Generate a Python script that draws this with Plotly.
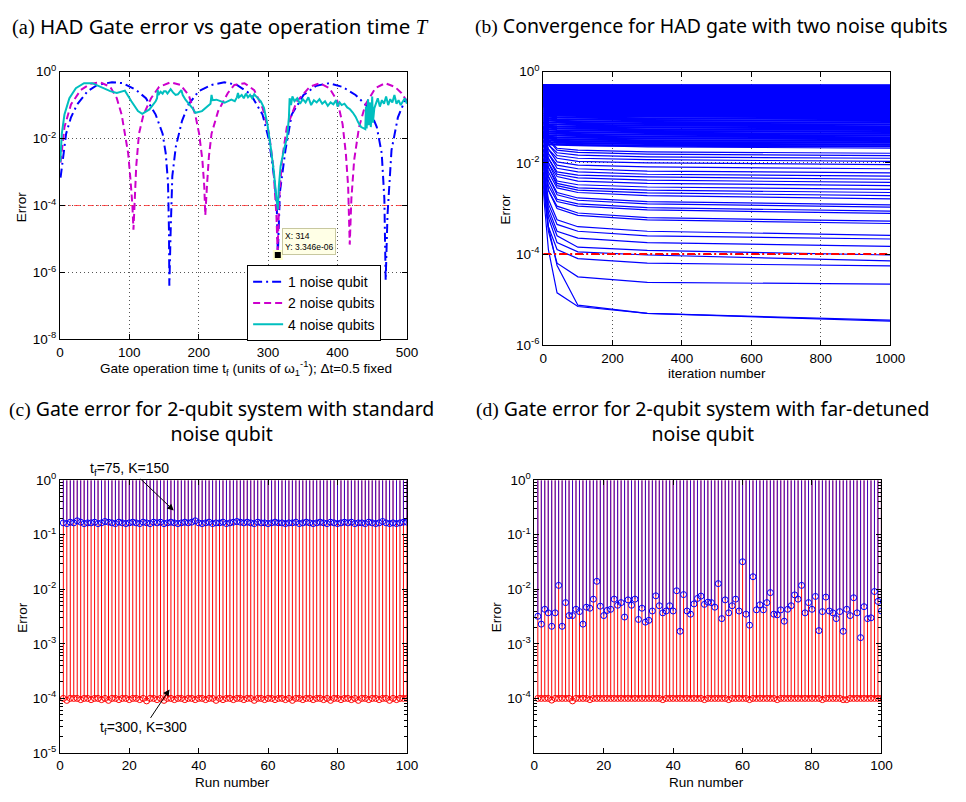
import numpy as np
import plotly.graph_objects as go

W, H = 966, 802
FONT = "Liberation Sans, Arial, sans-serif"
TFONT = "Noto Sans, sans-serif"

# ---------------- (a) HAD gate error vs gate time ----------------
t_1q = [1, 4, 9, 16, 25, 40, 54, 75, 91, 110, 124, 138, 148, 152.5, 155.8, 157.2, 157.7, 159.6, 162, 167,
        176, 185.5, 200, 218.5, 237, 255, 275, 292, 301.4, 308.5, 312.5, 314, 317, 325, 334, 351, 369.6, 388, 407, 426,
        445, 456.6, 463.7, 467.5, 469.4, 472, 477.8, 487, 496.6, 500]
err_1q = [6.8e-4, 2.3e-3, 1.4e-2, 4.3e-2, 0.105, 0.26, 0.40, 0.48, 0.45, 0.28,
          0.16, 0.052, 0.014, 3.6e-3, 4.8e-4, 1.7e-5, 4.0e-7, 1.7e-5, 7.6e-4, 5.6e-3,
          3.4e-2, 0.105, 0.26, 0.40, 0.48, 0.40, 0.21, 0.052, 8.9e-3, 7.6e-4,
          1.0e-4, 3.3e-6, 2.5e-4, 4.5e-3, 0.052, 0.20, 0.38, 0.45, 0.35, 0.20,
          0.083, 0.022, 3.6e-3, 1.6e-4, 5.8e-7, 5.1e-5, 4.5e-3, 4.3e-2, 0.13, 0.15]

t_2q = [1, 6.6, 16, 30, 44, 58, 72.5, 82, 89, 93.7, 98.4, 101.7, 104.5, 106, 108.3, 110, 114, 120.5, 131.4, 143,
        159.6, 173.7, 185.5, 195, 200.6, 205.3, 208, 209.5, 211.9, 214.7, 218.5, 228, 242, 251.4, 266, 280, 292, 301.4, 307.4, 312,
        313.7, 316, 320, 327, 341.4, 360, 374.3, 388.4, 400, 407.3, 412, 415.3, 417.6, 420, 424, 431, 440.4, 454.5, 468.6, 482.7,
        492, 500]
err_2q = [1.9e-3, 0.022, 0.105, 0.28, 0.43, 0.48, 0.35, 0.16, 0.052, 0.014,
          3.6e-3, 6.0e-4, 1.0e-4, 1.9e-5, 1.6e-4, 1.5e-3, 0.014, 0.052, 0.16, 0.35,
          0.48, 0.40, 0.20, 0.052, 0.014, 2.3e-3, 3.8e-4, 5.1e-5, 3.8e-4, 2.9e-3,
          0.014, 0.066, 0.23, 0.40, 0.45, 0.28, 0.083, 0.014, 1.5e-3, 5.1e-5,
          4.5e-6, 1.6e-4, 2.3e-3, 0.022, 0.13, 0.35, 0.45, 0.32, 0.13, 0.027,
          3.6e-3, 3.8e-4, 6.8e-6, 1.6e-4, 2.3e-3, 0.022, 0.105, 0.32, 0.45, 0.35,
          0.23, 0.13]

t_4q = [0.5, 2.8, 6.6, 13.7, 23, 34.8, 46.6, 58.4, 72.5, 82,
        93.7, 103, 112.5, 118.6, 129, 138, 140, 141, 142, 145,
        148, 150, 152.5, 155, 159.6, 163, 166.7, 170, 173, 175,
        177, 181, 190.6, 195.3, 204.7, 214, 217, 218.5, 220, 225.6,
        237.4, 247, 252, 255, 256.6, 258, 262, 265, 268, 271,
        274, 277, 280, 284, 289.5, 294, 299, 303.7, 308.5, 312,
        314, 315.5, 318, 322.7, 327.4, 330, 331, 333, 335, 338,
        342, 346, 350, 354, 358, 362, 366, 370, 374, 378,
        382, 386, 390, 394, 398, 400, 403, 406, 410, 414,
        418, 422, 426, 430, 434, 438, 440, 441, 442, 444,
        445, 447, 448, 450, 451, 453, 455, 458, 461, 464,
        467, 470, 473, 476, 479, 482, 485, 488, 491, 494,
        497, 500]
err_4q = [2.0e-3, 1.4e-2, 5.2e-2, 0.16, 0.32, 0.45, 0.45, 0.35, 0.26, 0.23,
          0.27, 0.13, 0.066, 0.055, 0.074, 0.13, 0.16, 0.28, 0.20, 0.25,
          0.22, 0.26, 0.26, 0.22, 0.30, 0.24, 0.20, 0.21, 0.24, 0.28,
          0.20, 0.145, 0.083, 0.059, 0.066, 0.093, 0.11, 0.20, 0.14, 0.145,
          0.117, 0.145, 0.13, 0.17, 0.23, 0.17, 0.20, 0.16, 0.22, 0.17,
          0.20, 0.16, 0.21, 0.17, 0.13, 0.083, 0.027, 5.6e-3, 9.3e-4, 1.6e-4,
          7.5e-5, 3.8e-4, 1.5e-3, 4.5e-3, 0.011, 0.043, 0.16, 0.10, 0.18, 0.13,
          0.16, 0.11, 0.15, 0.12, 0.17, 0.10, 0.14, 0.12, 0.15, 0.11,
          0.13, 0.095, 0.12, 0.105, 0.14, 0.09, 0.12, 0.10, 0.11, 0.085,
          0.075, 0.06, 0.045, 0.03, 0.022, 0.02, 0.019, 0.09, 0.02, 0.15,
          0.025, 0.12, 0.022, 0.18, 0.03, 0.08, 0.10, 0.16, 0.09, 0.14,
          0.11, 0.18, 0.10, 0.15, 0.12, 0.20, 0.11, 0.14, 0.10, 0.13,
          0.16, 0.11]

threshold = 1e-4
tip_x, tip_y = 314, 3.346e-6

# ---------------- (b) convergence, log10(error) per run at given iterations ----------------
conv_iter = [0, 15, 40, 100, 300, 1000]
conv_log10_low = [
    [-2.6, -3.9, -4.85, -5.15, -5.30, -5.47],
    [-2.5, -3.4, -4.25, -5.12, -5.30, -5.45],
    [-2.4, -3.5, -4.20, -4.50, -4.62, -4.66],
    [-2.3, -3.4, -3.90, -4.10, -4.20, -4.26],
    [-2.2, -3.2, -3.75, -3.95, -4.02, -4.15],
    [-2.2, -3.1, -3.60, -3.85, -3.92, -4.02],
    [-2.1, -3.0, -3.50, -3.65, -3.75, -3.83],
    [-2.0, -2.9, -3.35, -3.50, -3.60, -3.67],
    [-2.0, -2.8, -3.25, -3.40, -3.50, -3.59],
    [-1.9, -2.6, -3.00, -3.15, -3.25, -3.33],
    [-1.9, -2.6, -2.95, -3.10, -3.20, -3.28],
    [-1.8, -2.5, -2.85, -2.95, -3.03, -3.11],
    [-1.8, -2.4, -2.80, -2.90, -2.98, -3.06],
    [-1.7, -2.3, -2.70, -2.82, -2.90, -2.97],
    [-1.7, -2.3, -2.65, -2.77, -2.85, -2.92],
    [-1.6, -2.2, -2.55, -2.65, -2.72, -2.79],
    [-1.6, -2.1, -2.50, -2.60, -2.66, -2.72],
    [-1.5, -2.1, -2.45, -2.55, -2.60, -2.65],
    [-1.5, -2.0, -2.40, -2.48, -2.53, -2.58],
    [-1.4, -2.0, -2.30, -2.40, -2.45, -2.50],
    [-1.4, -1.9, -2.25, -2.33, -2.38, -2.43],
    [-1.4, -1.9, -2.20, -2.27, -2.31, -2.36],
    [-1.3, -1.8, -2.12, -2.20, -2.25, -2.29],
    [-1.3, -1.8, -2.05, -2.13, -2.18, -2.22],
    [-1.3, -1.7, -1.98, -2.05, -2.09, -2.13],
    [-1.3, -1.7, -1.90, -1.97, -2.00, -2.04],
    [-1.2, -1.6, -1.84, -1.90, -1.93, -1.97],
    [-1.2, -1.6, -1.78, -1.83, -1.87, -1.90],
    [-1.2, -1.5, -1.72, -1.77, -1.81, -1.84],
    [-1.2, -1.5, -1.68, -1.72, -1.76, -1.79],
    [-1.1, -1.4, -1.58, -1.62, -1.65, -1.68],
]
conv_log10_high = [
    [-1.39, -1.59, -1.60, -1.61, -1.625, -1.64],
    [-1.35, -1.55, -1.56, -1.57, -1.585, -1.60],
    [-1.31, -1.51, -1.52, -1.53, -1.545, -1.56],
    [-1.27, -1.47, -1.48, -1.49, -1.505, -1.52],
    [-1.23, -1.43, -1.44, -1.45, -1.465, -1.48],
    [-1.19, -1.39, -1.40, -1.41, -1.425, -1.44],
    [-1.15, -1.35, -1.36, -1.37, -1.385, -1.40],
    [-1.11, -1.31, -1.32, -1.33, -1.345, -1.36],
    [-1.07, -1.27, -1.28, -1.29, -1.305, -1.32],
    [-1.03, -1.23, -1.24, -1.25, -1.265, -1.28],
    [-0.99, -1.19, -1.20, -1.21, -1.225, -1.24],
    [-0.95, -1.15, -1.16, -1.17, -1.185, -1.20],
    [-0.91, -1.11, -1.12, -1.13, -1.145, -1.16],
    [-0.87, -1.07, -1.08, -1.09, -1.105, -1.12],
    [-0.83, -1.03, -1.04, -1.05, -1.065, -1.08],
    [-0.79, -0.99, -1.00, -1.01, -1.025, -1.04],
    [-0.75, -0.95, -0.96, -0.97, -0.985, -1.00],
    [-0.73, -0.925, -0.935, -0.945, -0.96, -0.975],
    [-0.70, -0.90, -0.91, -0.92, -0.935, -0.95],
    [-0.68, -0.875, -0.885, -0.895, -0.91, -0.925],
    [-0.65, -0.85, -0.86, -0.87, -0.885, -0.90],
    [-0.63, -0.825, -0.835, -0.845, -0.86, -0.875],
    [-0.60, -0.80, -0.81, -0.82, -0.835, -0.85],
    [-0.58, -0.775, -0.785, -0.795, -0.81, -0.825],
    [-0.55, -0.75, -0.76, -0.77, -0.785, -0.80],
    [-0.53, -0.725, -0.735, -0.745, -0.76, -0.775],
    [-0.50, -0.70, -0.71, -0.72, -0.735, -0.75],
    [-0.48, -0.675, -0.685, -0.695, -0.71, -0.725],
    [-0.45, -0.65, -0.66, -0.67, -0.685, -0.70],
    [-0.43, -0.625, -0.635, -0.645, -0.66, -0.675],
    [-0.40, -0.60, -0.61, -0.62, -0.635, -0.65],
    [-0.38, -0.575, -0.585, -0.595, -0.61, -0.625],
    [-0.35, -0.55, -0.56, -0.57, -0.585, -0.60],
    [-0.33, -0.525, -0.535, -0.545, -0.56, -0.575],
    [-0.31, -0.50, -0.51, -0.52, -0.535, -0.55],
    [-0.30, -0.475, -0.485, -0.495, -0.51, -0.525],
    [-0.30, -0.45, -0.46, -0.47, -0.485, -0.50],
    [-0.30, -0.425, -0.435, -0.445, -0.46, -0.475],
    [-0.30, -0.40, -0.41, -0.42, -0.435, -0.45],
    [-0.30, -0.375, -0.385, -0.395, -0.41, -0.425],
    [-0.30, -0.35, -0.36, -0.37, -0.385, -0.40],
    [-0.30, -0.33, -0.34, -0.35, -0.36, -0.375],
    [-0.30, -0.31, -0.32, -0.33, -0.34, -0.35],
    [-0.30, -0.30, -0.305, -0.31, -0.32, -0.33],
    [-0.30, -0.30, -0.30, -0.30, -0.305, -0.31],
    [-0.30, -0.30, -0.30, -0.30, -0.30, -0.30],
]

# ---------------- (c), (d) runs ----------------
runs = list(range(1, 101))
c_err_75 = [0.165, 0.160, 0.170, 0.165, 0.180, 0.170, 0.160, 0.165, 0.165, 0.170,
            0.160, 0.165, 0.175, 0.170, 0.165, 0.160, 0.170, 0.165, 0.160, 0.165,
            0.170, 0.165, 0.160, 0.170, 0.165, 0.160, 0.170, 0.165, 0.170, 0.160,
            0.165, 0.170, 0.165, 0.160, 0.165, 0.170, 0.165, 0.170, 0.180, 0.165,
            0.160, 0.165, 0.170, 0.160, 0.165, 0.165, 0.170, 0.160, 0.165, 0.170,
            0.175, 0.170, 0.165, 0.170, 0.165, 0.160, 0.170, 0.165, 0.165, 0.160,
            0.165, 0.170, 0.165, 0.165, 0.160, 0.165, 0.165, 0.170, 0.160, 0.165,
            0.170, 0.165, 0.160, 0.165, 0.170, 0.165, 0.160, 0.170, 0.165, 0.160,
            0.165, 0.170, 0.165, 0.170, 0.160, 0.165, 0.165, 0.160, 0.170, 0.165,
            0.160, 0.165, 0.175, 0.165, 0.160, 0.165, 0.160, 0.165, 0.170, 0.170]
c_err_300 = [1.0e-4, 0.92e-4, 1.0e-4, 1.0e-4, 1.0e-4, 0.95e-4, 1.0e-4, 1.0e-4, 0.95e-4, 1.0e-4,
             1.0e-4, 0.95e-4, 1.0e-4, 0.92e-4, 1.0e-4, 1.0e-4, 0.95e-4, 1.0e-4, 1.0e-4, 0.95e-4,
             1.0e-4, 1.0e-4, 0.95e-4, 1.0e-4, 0.9e-4, 1.0e-4, 1.0e-4, 0.95e-4, 1.0e-4, 0.92e-4,
             1.0e-4, 1.0e-4, 0.95e-4, 1.0e-4, 1.0e-4, 0.95e-4, 1.0e-4, 1.0e-4, 0.95e-4, 1.0e-4,
             1.0e-4, 0.95e-4, 1.0e-4, 1.0e-4, 0.92e-4, 1.0e-4, 0.95e-4, 1.0e-4, 1.0e-4, 0.95e-4,
             1.0e-4, 1.0e-4, 0.95e-4, 1.0e-4, 1.0e-4, 0.92e-4, 1.0e-4, 1.0e-4, 0.95e-4, 1.0e-4,
             1.0e-4, 0.95e-4, 1.0e-4, 1.0e-4, 0.95e-4, 1.0e-4, 0.92e-4, 1.0e-4, 1.0e-4, 0.95e-4,
             1.0e-4, 1.0e-4, 0.95e-4, 1.0e-4, 1.0e-4, 0.95e-4, 1.0e-4, 0.92e-4, 1.0e-4, 1.0e-4,
             0.95e-4, 1.0e-4, 1.0e-4, 0.95e-4, 1.0e-4, 0.92e-4, 1.0e-4, 1.0e-4, 0.95e-4, 1.0e-4,
             1.0e-4, 0.95e-4, 1.0e-4, 1.0e-4, 0.92e-4, 1.0e-4, 0.95e-4, 1.0e-4, 1.0e-4, 1.0e-4]
d_err_75 = [3.2e-3, 2.3e-3, 4.3e-3, 3.7e-3, 2.1e-3, 3.7e-3, 1.18e-2, 2.1e-3, 5.7e-3, 3.3e-3,
            3.3e-3, 4.3e-3, 3.9e-3, 2.3e-3, 4.7e-3, 4.5e-3, 6.6e-3, 1.4e-2, 4.9e-3, 3.3e-3,
            4.1e-3, 4.3e-3, 6.6e-3, 5.1e-3, 5.7e-3, 3.1e-3, 6.4e-3, 5.1e-3, 6.6e-3, 2.8e-3,
            4.5e-3, 2.5e-3, 2.7e-3, 4.0e-3, 7.6e-3, 5.0e-3, 3.7e-3, 4.0e-3, 5.0e-3, 4.0e-3,
            9.4e-3, 1.7e-3, 8.0e-3, 4.0e-3, 3.5e-3, 5.4e-3, 6.8e-3, 7.5e-3, 5.3e-3, 5.8e-3,
            5.7e-3, 4.7e-3, 1.27e-2, 2.9e-3, 6.4e-3, 3.7e-3, 5.0e-3, 6.6e-3, 4.0e-3, 3.2e-2,
            3.5e-3, 2.2e-3, 1.7e-2, 4.2e-3, 5.2e-3, 4.2e-3, 5.7e-3, 8.7e-3, 3.5e-3, 3.4e-3,
            4.2e-3, 2.6e-3, 4.3e-3, 5.0e-3, 7.9e-3, 6.6e-3, 1.18e-2, 3.7e-3, 5.7e-3, 4.3e-3,
            7.4e-3, 1.75e-3, 3.9e-3, 7.2e-3, 4.0e-3, 3.7e-3, 2.9e-3, 3.9e-3, 1.7e-3, 4.3e-3,
            3.3e-3, 7.0e-3, 3.7e-3, 1.3e-3, 4.8e-3, 2.9e-3, 3.0e-3, 9.1e-3, 6.0e-3, 4.0e-3]
d_err_300 = [1.0e-4, 1.0e-4, 1.0e-4, 1.0e-4, 0.93e-4, 1.0e-4, 1.0e-4, 1.0e-4, 1.0e-4, 1.0e-4,
             0.9e-4, 1.0e-4, 1.0e-4, 1.0e-4, 1.0e-4, 0.95e-4, 1.0e-4, 1.0e-4, 1.0e-4, 1.0e-4,
             1.0e-4, 1.0e-4, 1.0e-4, 1.0e-4, 1.0e-4, 1.0e-4, 1.0e-4, 1.0e-4, 1.0e-4, 1.0e-4,
             1.0e-4, 1.0e-4, 1.0e-4, 1.0e-4, 1.0e-4, 1.0e-4, 0.95e-4, 1.0e-4, 1.0e-4, 1.0e-4,
             1.0e-4, 1.0e-4, 1.0e-4, 1.0e-4, 1.0e-4, 1.0e-4, 1.0e-4, 1.0e-4, 0.95e-4, 1.0e-4,
             1.0e-4, 1.0e-4, 1.0e-4, 1.0e-4, 1.0e-4, 0.95e-4, 1.0e-4, 1.0e-4, 1.0e-4, 1.0e-4,
             1.0e-4, 0.95e-4, 1.0e-4, 1.0e-4, 1.0e-4, 1.0e-4, 1.0e-4, 1.0e-4, 1.0e-4, 0.95e-4,
             1.0e-4, 1.0e-4, 1.0e-4, 1.0e-4, 1.0e-4, 1.0e-4, 1.0e-4, 1.0e-4, 1.0e-4, 1.0e-4,
             1.0e-4, 1.0e-4, 0.95e-4, 1.0e-4, 1.0e-4, 1.0e-4, 1.0e-4, 1.0e-4, 0.95e-4, 0.95e-4,
             1.0e-4, 1.0e-4, 1.0e-4, 1.0e-4, 1.0e-4, 1.0e-4, 1.0e-4, 1.0e-4, 1.0e-4, 1.0e-4]
stem_top = 1.0

BLUE, RED, MAG, CYAN = "#0000ff", "#ff0000", "#cc00cc", "#00bfbf"


def px_x(p):
    return p / W


def px_y(p):
    return 1 - p / H


fig = go.Figure()

# ---- (a)
fig.add_trace(go.Scatter(x=[0, 500], y=[threshold, threshold], mode="lines", showlegend=False,
                         line=dict(color="rgba(255,40,40,0.8)", width=1, dash="6px,3px,2px,3px"),
                         xaxis="x", yaxis="y"))
fig.add_trace(go.Scatter(x=t_1q, y=err_1q, mode="lines", name="1 noise qubit",
                         line=dict(color=BLUE, width=2, dash="9px,4px,2px,4px"), xaxis="x", yaxis="y"))
fig.add_trace(go.Scatter(x=t_2q, y=err_2q, mode="lines", name="2 noise qubits",
                         line=dict(color=MAG, width=2, dash="7px,4px"), xaxis="x", yaxis="y"))
fig.add_trace(go.Scatter(x=t_4q, y=err_4q, mode="lines", name="4 noise qubits",
                         line=dict(color=CYAN, width=2), xaxis="x", yaxis="y"))
fig.add_trace(go.Scatter(x=[tip_x], y=[tip_y], mode="markers", showlegend=False,
                         marker=dict(symbol="square", size=8, color="black",
                                     line=dict(color="#ffffcc", width=2)),
                         xaxis="x", yaxis="y"))


# ---- (b)
def runs_to_xy(rows):
    xs, ys = [], []
    for row in rows:
        xs += conv_iter + [None]
        ys += list(10.0 ** np.array(row)) + [None]
    return xs, ys


bx, by = runs_to_xy(conv_log10_low)
fig.add_trace(go.Scatter(x=bx, y=by, mode="lines", showlegend=False,
                         line=dict(color=BLUE, width=1.2), xaxis="x2", yaxis="y2"))
bx, by = runs_to_xy(conv_log10_high)
fig.add_trace(go.Scatter(x=bx, y=by, mode="lines", showlegend=False,
                         line=dict(color=BLUE, width=2.2), xaxis="x2", yaxis="y2"))
fig.add_trace(go.Scatter(x=[0, 1000], y=[threshold, threshold], mode="lines", showlegend=False,
                         line=dict(color=RED, width=2, dash="8px,3px,2px,3px"), xaxis="x2", yaxis="y2"))


# ---- (c), (d) stems
def stems(xs, ys):
    sx, sy = [], []
    for x, y in zip(xs, ys):
        sx += [x, x, None]
        sy += [stem_top, y, None]
    return sx, sy


for err_hi, err_lo, xa, ya in [(c_err_75, c_err_300, "x3", "y3"), (d_err_75, d_err_300, "x4", "y4")]:
    sx, sy = stems(runs, err_lo)
    fig.add_trace(go.Scatter(x=sx, y=sy, mode="lines", showlegend=False,
                             line=dict(color=RED, width=1), xaxis=xa, yaxis=ya))
    sx, sy = stems(runs, err_hi)
    fig.add_trace(go.Scatter(x=sx, y=sy, mode="lines", showlegend=False, opacity=0.75,
                             line=dict(color=BLUE, width=1), xaxis=xa, yaxis=ya))
    fig.add_trace(go.Scatter(x=runs, y=err_lo, mode="markers", showlegend=False,
                             marker=dict(symbol="circle-open", size=6, color=RED, line=dict(width=1)),
                             xaxis=xa, yaxis=ya))
    fig.add_trace(go.Scatter(x=runs, y=err_hi, mode="markers", showlegend=False,
                             marker=dict(symbol="circle-open", size=6, color=BLUE, line=dict(width=1)),
                             xaxis=xa, yaxis=ya))

# ---- axes
tickfont = dict(family=FONT, size=13.5, color="black")
base = dict(showline=True, linecolor="black", linewidth=1, mirror="allticks", ticks="inside",
            ticklen=5, tickcolor="black", tickfont=tickfont, zeroline=False)
grid = dict(showgrid=True, gridcolor="#555555", griddash="1px,3px", gridwidth=1)
nogrid = dict(showgrid=False)


def logticks(exps):
    return dict(tickvals=[10.0 ** e for e in exps],
                ticktext=["10<sup>%d</sup>" % e for e in exps])


minor_vals = [m * 10.0 ** e for e in range(-5, 0) for m in range(2, 10)]
minor = dict(ticks="inside", ticklen=3, tickcolor="black", tickmode="array", tickvals=minor_vals, showgrid=False)

dom_a_x = [px_x(57), px_x(411)]
dom_b_x = [px_x(550), px_x(904)]
dom_c_x = [px_x(57), px_x(411)]
dom_d_x = [px_x(541), px_x(895)]
dom_top_a = [px_y(337), px_y(63)]
dom_top_b = [px_y(343), px_y(63)]
dom_bot = [px_y(760), px_y(481)]

layout = dict(
    width=W, height=H, margin=dict(l=0, r=0, t=0, b=0),
    paper_bgcolor="white", plot_bgcolor="white",
    font=dict(family=FONT, size=13.5, color="black"),
    xaxis=dict(domain=dom_a_x, anchor="y", range=[0, 500], tickvals=[0, 100, 200, 300, 400, 500], **base, **grid),
    yaxis=dict(domain=dom_top_a, anchor="x", type="log", range=[-8, 0], **logticks([-8, -6, -4, -2, 0]), **base, **grid),
    xaxis2=dict(domain=dom_b_x, anchor="y2", range=[0, 1000], tickvals=[0, 200, 400, 600, 800, 1000], **base, **grid),
    yaxis2=dict(domain=dom_top_b, anchor="x2", type="log", range=[-6, 0], **logticks([-6, -4, -2, 0]), **base, **grid),
    xaxis3=dict(domain=dom_c_x, anchor="y3", range=[0, 100], tickvals=[0, 20, 40, 60, 80, 100], **base, **nogrid),
    yaxis3=dict(domain=dom_bot, anchor="x3", type="log", range=[-5, 0], **logticks([-5, -4, -3, -2, -1, 0]),
                minor=minor, **base, **nogrid),
    xaxis4=dict(domain=dom_d_x, anchor="y4", range=[0, 100], tickvals=[0, 20, 40, 60, 80, 100], **base, **nogrid),
    yaxis4=dict(domain=dom_bot, anchor="x4", type="log", range=[-5, 0], **logticks([-4, -3, -2, -1, 0]),
                minor=minor, **base, **nogrid),
    legend=dict(x=px_x(248), y=px_y(261), xanchor="left", yanchor="top", bgcolor="white",
                bordercolor="black", borderwidth=1, font=dict(family=FONT, size=14, color="black"),
                tracegroupgap=0, itemwidth=30),
    showlegend=True,
)
fig.update_layout(**layout)

SERIF = "Liberation Serif, DejaVu Serif, serif"
ann = []


def text_ann(x, y, text, size=13.5, family=FONT, angle=0):
    ann.append(dict(x=px_x(x), y=px_y(y), xref="paper", yref="paper", text=text, showarrow=False,
                    xanchor="center", yanchor="middle", textangle=angle,
                    font=dict(family=family, size=size, color="black")))


def s(t):
    return '<span style="font-family:%s">%s</span>' % (SERIF, t)


TS = 19.5
text_ann(221, 16, s("(a)") + " HAD Gate error vs gate operation time " + s("<i>T</i>"), size=20.5, family=TFONT)
text_ann(722, 16, s("(b)") + " Convergence for HAD gate with two noise qubits", size=TS, family=TFONT)
text_ann(222, 420, s("(c)") + " Gate error for 2-qubit system with standard<br>noise qubit", size=TS, family=TFONT)
text_ann(713, 420, s("(d)") + " Gate error for 2-qubit system with far-detuned<br>noise qubit", size=TS, family=TFONT)

text_ann(247, 366, "Gate operation time t<sub>f</sub> (units of ω<sub>1</sub><sup>-1</sup>); Δt=0.5 fixed", size=13.5)
text_ann(18, 201, "Error", angle=-90)
text_ann(727, 372, "iteration number")
text_ann(511, 203, "Error", angle=-90)
text_ann(233, 790, "Run number")
text_ann(18, 621, "Error", angle=-90)
text_ann(717, 790, "Run number")
text_ann(502, 621, "Error", angle=-90)

# data tip box
ann.append(dict(x=px_x(284), y=px_y(223), xref="paper", yref="paper",
                text="X: 314<br>Y: 3.346e-06", showarrow=False, xanchor="left", yanchor="top", align="left",
                bgcolor="#ffffe6", bordercolor="#c8c8a0", borderwidth=1, borderpad=2,
                font=dict(family=FONT, size=8.5, color="black")))

# arrows in (c)
ann.append(dict(x=32.8, y=-0.556, xref="x3", yref="y3", text="t<sub>f</sub>=75, K=150", showarrow=True,
                ax=-44, ay=-42, arrowhead=2, arrowsize=1.3, arrowwidth=1, arrowcolor="black",
                font=dict(family=FONT, size=14, color="black")))
ann.append(dict(x=31.6, y=-3.835, xref="x3", yref="y3", text="t<sub>f</sub>=300, K=300", showarrow=True,
                ax=-26, ay=39, arrowhead=2, arrowsize=1.3, arrowwidth=1, arrowcolor="black",
                font=dict(family=FONT, size=14, color="black")))

fig.update_layout(annotations=ann)
css_js = ("var st=document.createElement('style');"
          "st.innerHTML='html,body{margin:0 !important;padding:0 !important;overflow:hidden;}';"
          "document.head.appendChild(st);")
fig.write_html("out.html", post_script=css_js)
